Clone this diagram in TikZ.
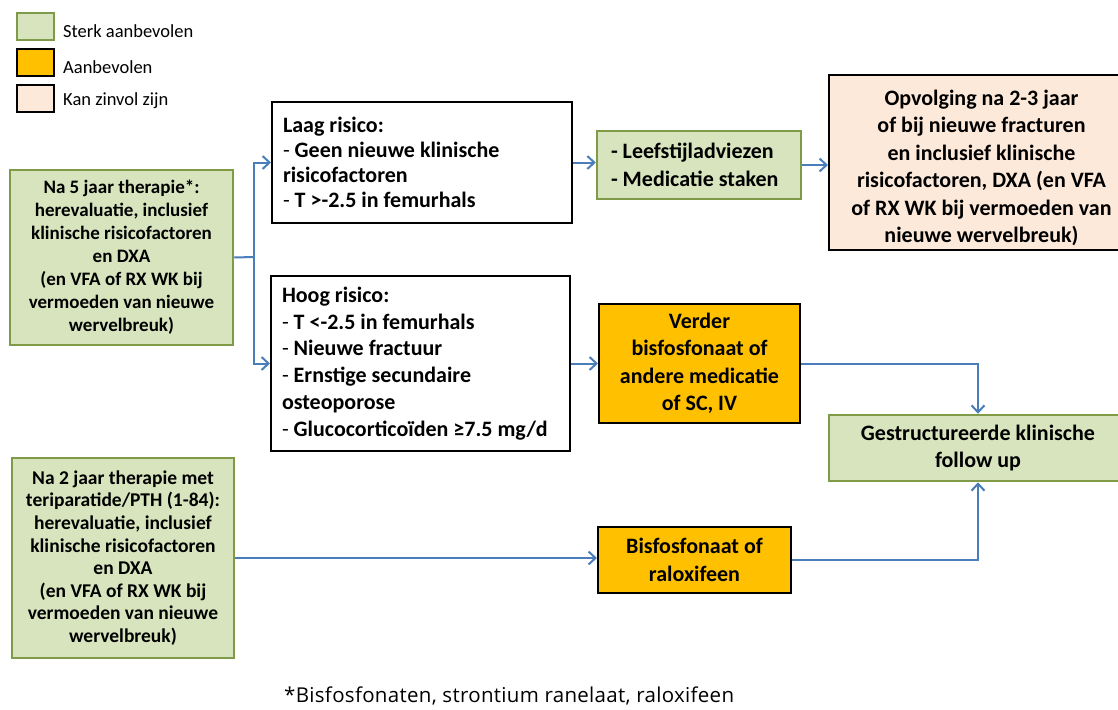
\documentclass[tikz,border=0pt]{standalone}
\usepackage{fontspec}
\setmainfont{Carlito}
\newfontfamily\notefont[LetterSpace=1.5]{Open Sans}
\usetikzlibrary{arrows.meta}
\definecolor{gfill}{HTML}{D7E4BD}
\definecolor{gline}{HTML}{7F9B48}
\definecolor{ofill}{HTML}{FFC000}
\definecolor{pfill}{HTML}{FDE9D9}
\definecolor{conn}{HTML}{4A7EBB}
\begin{document}
\begin{tikzpicture}[x=1pt,y=-1pt,
  box/.style={draw, line width=2pt, inner sep=0pt, align=center,
    font=\bfseries\fontsize{22}{27.5}\selectfont},
  gbox/.style={box, fill=gfill, draw=gline, line width=2.5pt},
  obox/.style={box, fill=ofill, draw=black},
  pbox/.style={box, fill=pfill, draw=black},
  wbox/.style={box, fill=white, draw=black, align=flush left},
  legsq/.style={draw, line width=2pt, minimum width=37pt, minimum height=27pt, inner sep=0pt},
  legtxt/.style={anchor=west, inner sep=0pt, font=\fontsize{18.5}{22}\selectfont},
  arr/.style={draw=conn, line width=2pt, -{Straight Barb[length=7pt,width=13pt]}},
  link/.style={draw=conn, line width=2pt}]
\useasboundingbox (0,0) rectangle (1118,709);
\clip (0,0) rectangle (1118,709);

% legend
\node[legsq, fill=gfill, draw=gline] (lg1) at (35.5,26.5) {};
\node[legsq, fill=ofill, draw=black, line width=2.5pt] (lg2) at (35.5,62.5) {};
\node[legsq, fill=pfill, draw=black] (lg3) at (35.5,98.5) {};
\node[legtxt] (lt1) at (63,31) {Sterk aanbevolen};
\node[legtxt] (lt2) at (63,67) {Aanbevolen};
\node[legtxt] (lt3) at (63,101) {Kan zinvol zijn};

% main nodes
\node[gbox, minimum width=223pt, minimum height=175pt,
  font=\bfseries\fontsize{19}{23}\selectfont] (A) at (121.5,257.5)
  {Na 5 jaar therapie*:\\herevaluatie, inclusief\\klinische risicofactoren\\en DXA\\(en VFA of RX WK bij\\vermoeden van nieuwe\\wervelbreuk)};

\node[gbox, minimum width=222pt, minimum height=200pt,
  font=\bfseries\fontsize{19.5}{22.6}\selectfont] (B) at (123,558)
  {Na 2 jaar therapie met\\teriparatide/PTH (1-84):\\herevaluatie, inclusief\\klinische risicofactoren\\en DXA\\(en VFA of RX WK bij\\vermoeden van nieuwe\\wervelbreuk)};

\node[wbox, text width=278pt, inner xsep=11pt, minimum height=121pt,
  font=\fontsize{22}{25}\selectfont] (laag) at (422,162.5)
  {\textbf{Laag risico:}\\-~\textbf{Geen nieuwe klinische}\\\textbf{risicofactoren}\\-~\textbf{T >-2.5 in femurhals}};

\node[wbox, text width=277pt, inner xsep=11pt, minimum height=175pt,
  font=\fontsize{22}{26.8}\selectfont] (hoog) at (420.5,363.5)
  {\textbf{Hoog risico:}\\-~\textbf{T <-2.5 in femurhals}\\-~\textbf{Nieuwe fractuur}\\-~\textbf{Ernstige secundaire}\\\textbf{osteoporose}\\-~\textbf{Glucocorticoïden ≥7.5 mg/d}};

\node[gbox, align=flush left, text width=176pt, inner xsep=14pt, minimum height=68pt] (leef) at (699,165)
  {- Leefstijladviezen\\- Medicatie staken};

\node[pbox, minimum width=305pt, minimum height=175pt] (opv) at (981.5,162.5) {};
\node[inner sep=0pt, align=center, font=\bfseries\fontsize{22}{27.5}\selectfont] (opvtext) at (981.5,168)
  {Opvolging na 2-3 jaar\\of bij nieuwe fracturen\\en inclusief klinische\\risicofactoren, DXA (en VFA\\of RX WK bij vermoeden van\\nieuwe wervelbreuk)};

\node[obox, minimum width=201pt, minimum height=119pt] (verder) at (699.5,363.5)
  {Verder\\bisfosfonaat of\\andere medicatie\\of SC, IV};

\node[gbox, minimum width=298pt, minimum height=66pt] (gestr) at (978,448)
  {Gestructureerde klinische\\follow up};

\node[obox, minimum width=193pt, minimum height=66pt] (bisf) at (694.5,560)
  {Bisfosfonaat of\\raloxifeen};

\node[anchor=west, inner sep=0pt, font=\notefont\fontsize{20.5}{24}\selectfont] (note) at (284,696)
  {*Bisfosfonaten, strontium ranelaat, raloxifeen};

% connectors
\coordinate (trunk) at (254,257);
\draw[link] (A.east) -- (trunk);
\draw[arr] (trunk) |- (laag.west);
\draw[arr] (trunk) |- (hoog.west);
\draw[arr] (laag.east) -- (laag.east -| leef.west);
\draw[arr] (leef.east) -- (leef.east -| opv.west);
\draw[arr] (hoog.east) -- (hoog.east -| verder.west);
\draw[arr] (verder.east) -| (gestr.north);
\draw[arr] (B.east) -- (B.east -| bisf.west);
\draw[arr] (bisf.east) -| (gestr.south);
\end{tikzpicture}
\end{document}
